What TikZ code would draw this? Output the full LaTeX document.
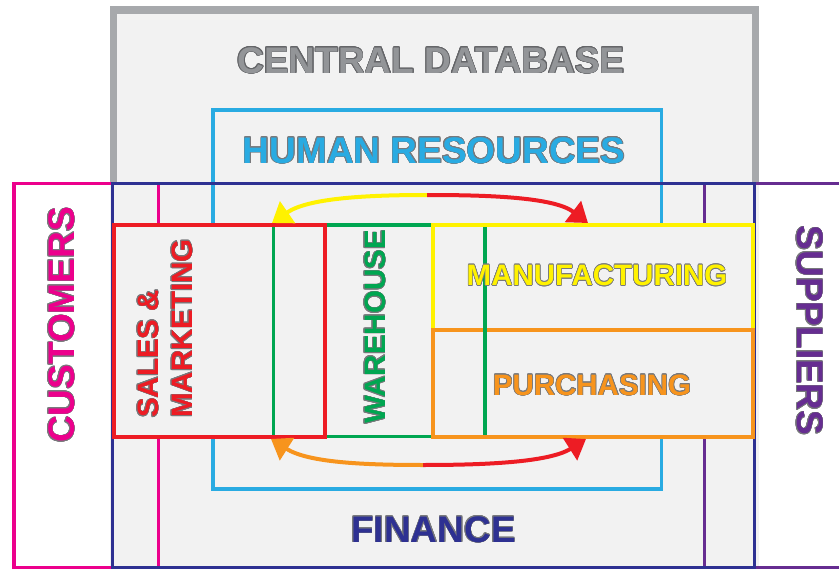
\documentclass[tikz,border=0pt]{standalone}
\usepackage{fontspec}
\setmainfont{Liberation Sans}
\usepackage{xcolor}
\usepackage{contour}
\contourlength{0.6pt}
\usetikzlibrary{arrows.meta}
\definecolor{DbGray}{RGB}{167,169,172}
\definecolor{DbText}{RGB}{147,149,152}
\definecolor{DbEdge}{RGB}{100,101,104}
\definecolor{DbFill}{RGB}{242,242,242}
\definecolor{HrBlue}{RGB}{41,171,226}
\definecolor{FinNavy}{RGB}{46,49,146}
\definecolor{CustPink}{RGB}{236,0,140}
\definecolor{SuppPurple}{RGB}{102,45,145}
\definecolor{SalesRed}{RGB}{237,28,36}
\definecolor{WhGreen}{RGB}{0,166,81}
\definecolor{MfgYellow}{RGB}{255,242,0}
\definecolor{PurOrange}{RGB}{247,148,29}
\definecolor{Edge}{RGB}{120,121,124}
\newcommand{\outlined}[1]{\contour{Edge}{#1}}

\tikzset{
  area/.style={line width=3.5pt},
  dept/.style={line width=4pt, fill=DbFill},
  biglabel/.style={font=\fontsize{37}{40}\selectfont\bfseries, inner sep=0pt},
  smalllabel/.style={font=\fontsize{29.5}{34}\selectfont\bfseries, inner sep=0pt},
  flow/.style={line width=4pt, -{Triangle[length=19pt,width=26pt]}},
}

\begin{document}
\begin{tikzpicture}[x=1pt,y=-1pt]
\useasboundingbox (0,0) rectangle (839,570);
% central database
\fill[DbFill] (110,6) rectangle (759,568);
\draw[DbGray, line width=7.5pt] (113.5,183) -- (113.5,10) -- (755.5,10) -- (755.5,183);
% outer areas
\draw[HrBlue, area] (213,110) rectangle (661.5,489);
\draw[CustPink, area] (14.2,183.5) rectangle (158.3,567.5);
\draw[SuppPurple, area] (704.5,183.5) rectangle (850,567.5);
\draw[FinNavy, area] (112.5,183.5) rectangle (754.5,567.5);
% departments
\draw[dept, draw=WhGreen, line width=3.5pt] (273.5,225) rectangle (485,436.5);
\draw[dept, draw=SalesRed] (114,225) rectangle (325,436.5);
\draw[dept, draw=MfgYellow] (432.5,225) rectangle (752.5,330);
\draw[dept, draw=PurOrange] (432.5,330) rectangle (752.5,436.5);
\draw[WhGreen, line width=3.5pt] (273.5,227) -- (273.5,434.5);
\draw[WhGreen, line width=3.5pt] (485,227) -- (485,434.5);
%
% flows
\coordinate (topmid) at (427,195);
\coordinate (salestop) at (272,223);
\coordinate (mfgtop) at (588,223);
\coordinate (botmid) at (423,465);
\coordinate (salesbot) at (271,439);
\coordinate (purchbot) at (586,439);
\draw[flow, MfgYellow] (topmid) .. controls (367,195) and (308,198) .. (salestop);
\draw[flow, SalesRed] (topmid) .. controls (487,195) and (554,197) .. (mfgtop);
\draw[flow, PurOrange] (botmid) .. controls (363,465) and (308,462.5) .. (salesbot);
\draw[flow, SalesRed] (botmid) .. controls (483,465) and (549,462.5) .. (purchbot);
%
% labels
\node[biglabel, anchor=base, text=DbText] (db) at (431,73) {\contour{DbEdge}{CENTRAL DATABASE}};
\node[biglabel, anchor=base, text=HrBlue] (hr) at (434,163) {\outlined{HUMAN RESOURCES}};
\node[biglabel, anchor=base, text=FinNavy] (fin) at (433.5,542) {\outlined{FINANCE}};
\node[biglabel, rotate=90, anchor=base, text=CustPink] (cust) at (74,325) {\outlined{CUSTOMERS}};
\node[biglabel, rotate=-90, anchor=base, text=SuppPurple] (supp) at (797,330.5) {\outlined{SUPPLIERS}};
\node[smalllabel, rotate=90, anchor=west, align=left, text=SalesRed] (sales) at (165.5,418) {\outlined{SALES \&}\\\outlined{MARKETING}};
\node[smalllabel, rotate=90, anchor=base, text=WhGreen] (wh) at (385,327) {\outlined{WAREHOUSE}};
\node[smalllabel, anchor=base, text=MfgYellow] (mfg) at (597,285.5) {\outlined{MANUFACTURING}};
\node[smalllabel, anchor=base, text=PurOrange] (purch) at (592,395) {\outlined{PURCHASING}};
\end{tikzpicture}
\end{document}
